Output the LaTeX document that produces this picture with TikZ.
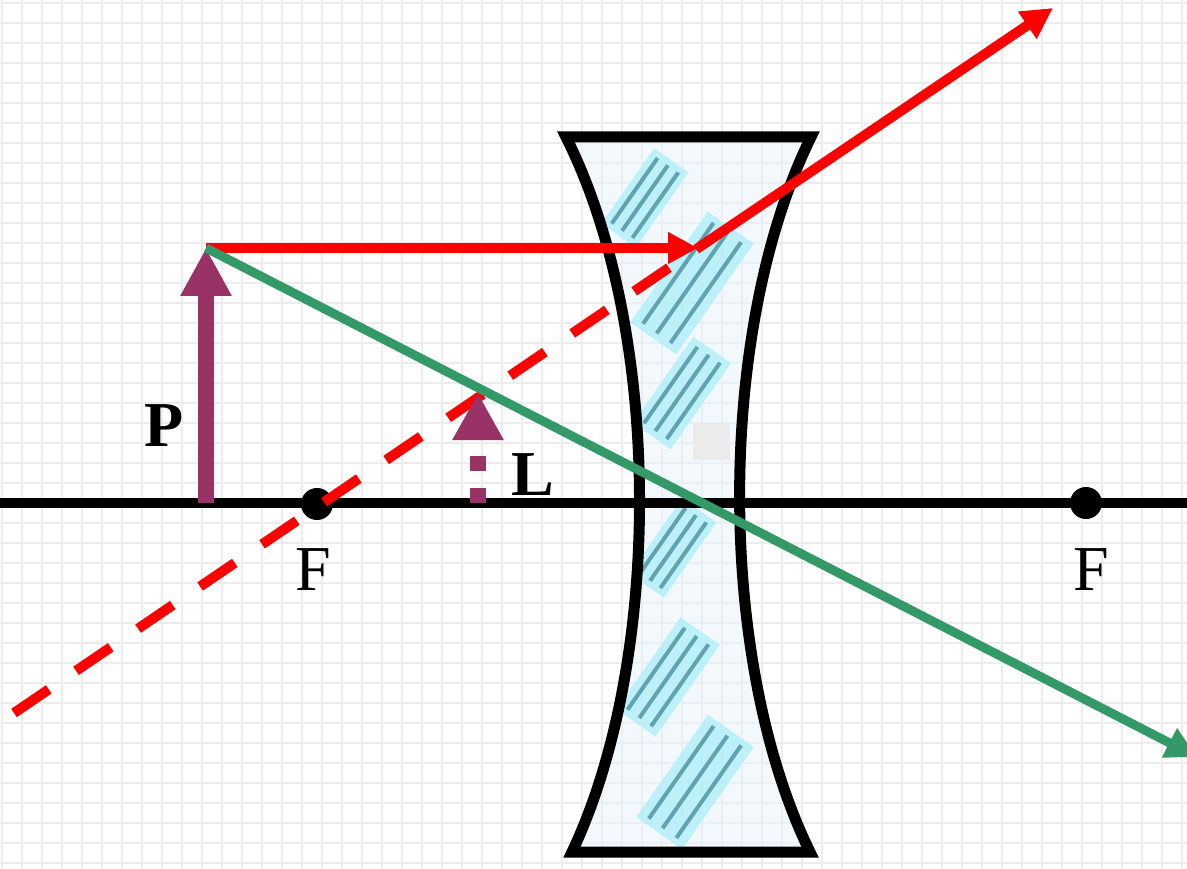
\documentclass[tikz,border=0pt]{standalone}
\usepackage{fontspec}
\setmainfont{Liberation Serif}
\usetikzlibrary{arrows.meta}
\definecolor{objpurple}{RGB}{153,51,102}
\definecolor{raygreen}{RGB}{51,153,102}
\definecolor{gridgray}{RGB}{236,236,236}
\definecolor{glasscyan}{RGB}{176,240,248}
\definecolor{glassteal}{RGB}{58,132,146}
\definecolor{glasshaze}{RGB}{232,242,252}
\begin{document}
\begin{tikzpicture}[x=1pt,y=-1pt,
  gridline/.style={gridgray, line width=2.2pt},
  axisline/.style={black, line width=10pt},
  lensedge/.style={black, line width=11pt, line join=miter},
  focusdot/.style={circle, fill=black, minimum size=32pt, inner sep=0pt},
  lbl/.style={inner sep=0pt, font=\fontsize{64}{64}\selectfont},
  boldlbl/.style={inner sep=0pt, font=\fontsize{64}{64}\selectfont\bfseries},
  objarrow/.style={objpurple, line width=16pt, -{Triangle[length=48pt,width=48pt]}},
  imgarrow/.style={objpurple, line width=16pt, dash pattern=on 15pt off 17pt,
                   -{Triangle[length=47pt,width=48pt]}},
  redray/.style={red, line width=10pt},
  redarrow/.style={redray, -{Triangle[length=30pt,width=30pt]}},
  reddash/.style={redray, dash pattern=on 42pt off 33pt},
  greenray/.style={raygreen, line width=9pt, -{Triangle[length=31pt,width=31pt]}},
  glasspatch/.style={glasscyan, opacity=0.8},
  glassstripe/.style={glassteal, line width=4pt, opacity=0.7}
]
\useasboundingbox (0,0) rectangle (1187,869);
\clip (0,0) rectangle (1187,869);

% tiled background
\fill[white] (0,0) rectangle (1187,869);
\foreach \x in {2,22,...,1186} \draw[gridline] (\x,0) -- (\x,869);
\foreach \y in {3,23,...,869} \draw[gridline] (0,\y) -- (1187,\y);

% glass texture, kept inside the lens body
\begin{scope}
  \clip (566,137) -- (811,137)
    .. controls (716,330) and (716,660) .. (810,852) -- (572,852)
    .. controls (663,660) and (663,330) .. (566,137) -- cycle;
  \fill[glasshaze, opacity=0.5] (560,130) rectangle (820,860);
  \foreach \cx/\cy/\len/\wid in {645/198/92/42, 692/283/135/56, 682/393/105/46,
                                 673/548/92/42, 668/677/112/48, 695/782/125/56} {
    \begin{scope}[shift={(\cx,\cy)}, rotate=55]
      \fill[glasspatch] (-\len/2,-\wid/2) rectangle (\len/2,\wid/2);
      \foreach \s in {-0.3,0,0.3}
        \draw[glassstripe] (-\len/2+6,\s*\wid) -- (\len/2-6,\s*\wid);
    \end{scope}
  }
  \fill[gray!16] (693,423) rectangle (730,460);
\end{scope}

% diverging lens outline
\draw[lensedge] (566,137) -- (811,137)
  .. controls (716,330) and (716,660) .. (810,852) -- (572,852)
  .. controls (663,660) and (663,330) .. (566,137) -- cycle;

% optical axis
\coordinate (axL) at (0,503);
\coordinate (axR) at (1187,503);
\draw[axisline] (axL) -- (axR);

% focal points
\node[focusdot] (F1) at (317,504) {};
\node[focusdot] (F2) at (1086,503) {};
\node[lbl] (F1lbl) at (313,570) {F};
\node[lbl] (F2lbl) at (1091,570) {F};

% object P
\coordinate (Pfoot) at (206,503);
\coordinate (Ptip) at (206,248);
\draw[objarrow] (Pfoot) -- (Ptip);
\node[boldlbl] (Plbl) at (164,426) {P};

% ray parallel to the axis, refracted away from the axis
\coordinate (J) at (698,248);
\coordinate (Rend) at (1053,8);
\coordinate (Dend) at (14,713);
\draw[reddash] (Dend) -- (J);

% virtual image L
\coordinate (Lfoot) at (478,503);
\coordinate (Ltip) at (478,393);
\draw[imgarrow] (Lfoot) -- (Ltip);
\node[boldlbl] (Llbl) at (533,475) {L};

\draw[redarrow] (Ptip) -- (J);
\draw[redarrow, -{Triangle[length=31pt,width=31pt]}] (J) -- (Rend);

% ray through the optical centre
\coordinate (Gend) at (1197,757);
\draw[greenray] (Ptip) -- (Gend);
\end{tikzpicture}
\end{document}
